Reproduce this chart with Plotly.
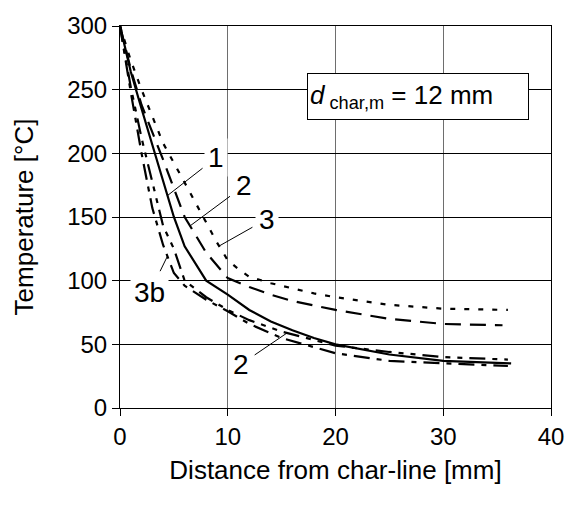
import numpy as np
import plotly.graph_objects as go

# Temperature profiles behind the char-line (mean char depth 12 mm)
x_1 = [0, 1, 2, 3, 4, 5, 6, 8, 10, 12, 14, 16, 18, 20, 25, 30, 36.3]
t_1 = [300, 264, 235, 206, 178, 150, 127, 100, 89, 77, 68, 61, 55, 50, 42, 37, 35]

x_2 = [0, 1, 2, 4, 6, 8, 10, 12, 14, 16, 20, 25, 30, 35.5]
t_2 = [300, 266, 238, 195, 150, 122, 102, 95, 89, 84, 77, 70, 66, 65]

x_3 = [0, 1, 2, 4, 6, 8, 9, 10, 11, 12, 14, 16, 18, 20, 25, 30, 36]
t_3 = [300, 273, 250, 208, 177, 145, 130, 116, 109, 103, 98, 94, 90, 87, 81, 78, 77]

x_2b = [0, 1, 2, 3, 4, 5, 6, 8, 10, 12, 15, 20, 25, 30, 36]
t_2b = [300, 252, 212, 178, 143, 125, 100, 87, 77, 69, 60, 49, 44, 40, 38]

x_3b = [0, 1, 2, 3, 4, 5, 6, 8, 10, 12, 15, 20, 25, 30, 36]
t_3b = [300, 248, 200, 157, 128, 106, 96, 85, 76, 66, 55, 43, 37, 35, 33]

x_ticks = [0, 10, 20, 30, 40]
y_ticks = [0, 50, 100, 150, 200, 250, 300]

series = {
    "1": (x_1, t_1, "solid"),
    "2": (x_2, t_2, "16px,9px"),
    "3": (x_3, t_3, "5px,9px"),
    "2b": (x_2b, t_2b, "16px,7px,5px,7px,5px,7px"),
    "3b": (x_3b, t_3b, "16px,7px,5px,7px"),
}

# curve labels: text, curve key, text position (x, T), leader tip x
labels = [
    ("1", "1", 8.95, 196.8, 4.4),
    ("2", "2", 11.5, 174.4, 6.5),
    ("3", "3", 13.6, 148.2, 9.2),
    ("3b", "3b", 2.74, 90.4, 4.4),
    ("2", "2b", 11.2, 34.2, 15.5),
]

FONT = "Liberation Sans, Arial, sans-serif"

fig = go.Figure()
for key, (xs, ts, dash) in series.items():
    fig.add_trace(go.Scatter(
        x=xs, y=ts, mode="lines", name=key,
        line=dict(color="black", width=2.2, dash=dash),
        showlegend=False, hoverinfo="skip",
    ))

annotations = []
for text, key, tx, ty, tip_x in labels:
    xs, ts, _ = series[key]
    tip_y = float(np.interp(tip_x, xs, ts))
    annotations.append(dict(
        x=tip_x, y=tip_y, xref="x", yref="y",
        ax=tx, ay=ty, axref="x", ayref="y",
        text=text, showarrow=True, arrowhead=0, arrowwidth=1,
        arrowcolor="black", bgcolor="white", borderpad=3,
        startstandoff=3,
        font=dict(family=FONT, size=28, color="black"),
    ))

annotations.append(dict(
    x=0.435, y=0.815, xref="paper", yref="paper",
    xanchor="left", yanchor="middle",
    text="<i>d</i><sub> char,m</sub> = 12 mm",
    showarrow=False, bgcolor="white", bordercolor="black",
    borderwidth=1, borderpad=2, width=216, height=41, align="left",
    font=dict(family=FONT, size=26, color="black"),
))

fig.update_layout(
    width=576, height=508,
    margin=dict(l=120, r=18, t=19, b=100),
    paper_bgcolor="white", plot_bgcolor="white",
    font=dict(family=FONT, size=24, color="black"),
    annotations=annotations,
)
fig.update_xaxes(
    range=[0, 40], tickvals=x_ticks, ticks="outside", ticklen=7,
    tickcolor="black", showgrid=True, gridcolor="#6e6e6e", gridwidth=1.4,
    showline=True, linecolor="black", linewidth=1, mirror=True,
    zeroline=False, tickfont=dict(size=24),
    title=dict(text="Distance from char-line [mm]", font=dict(size=26), standoff=12),
)
fig.update_yaxes(
    range=[0, 300], tickvals=y_ticks, ticks="outside", ticklen=7,
    tickcolor="black", showgrid=True, gridcolor="black", gridwidth=1,
    showline=True, linecolor="black", linewidth=1, mirror=True,
    zeroline=False, tickfont=dict(size=24),
    title=dict(text="Temperature [°C]", font=dict(size=26), standoff=26),
)

fig.write_html("out.html")
